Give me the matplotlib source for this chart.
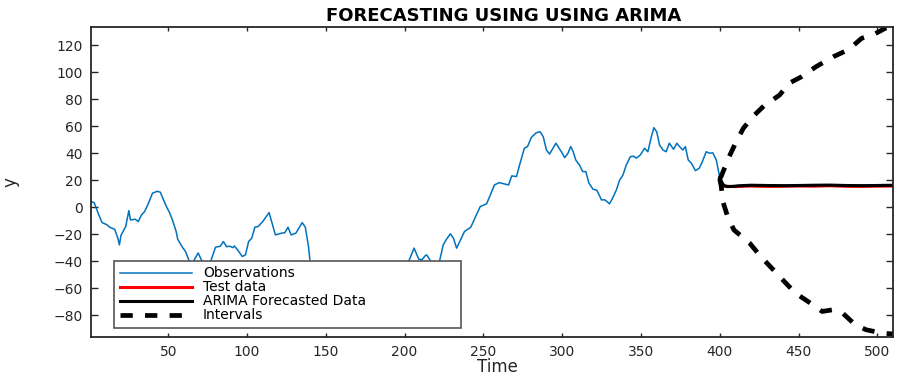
import matplotlib
matplotlib.use('Agg')
import matplotlib.pyplot as plt

# observed series (time index, value)
obs_t = [1, 3, 6, 8, 11, 13, 16, 18, 19, 20, 23, 25, 26, 29, 31, 33, 35, 37,
         40, 43, 45, 47, 49, 51, 53, 55, 56, 59, 61, 63, 65, 67, 69, 71, 73,
         75, 77, 80, 83, 85, 87, 89, 91, 92, 94, 97, 99, 101, 103, 105, 107,
         110, 114, 118, 122, 124, 126, 128, 131, 135, 137, 139, 140, 145, 150,
         155, 160, 165, 170, 175, 180, 185, 190, 195, 200, 203, 206, 209, 211,
         213, 214, 216, 218, 222, 224.5, 226.6, 229, 231, 233, 235.5, 238,
         242, 244.6, 248, 252, 254, 257, 260, 266, 268, 271, 273, 276, 278,
         280.5, 283.6, 286, 288, 290, 292, 296, 299.5, 301.6, 303.7, 305.4,
         307, 308.6, 311, 313, 315, 317, 319.6, 322, 325, 327, 328.4, 330,
         332, 334.4, 336.5, 338.6, 340.7, 343.3, 345.4, 347, 349.6, 352.3,
         354.4, 356.6, 358.2, 360, 361.8, 364, 366, 368, 370.7, 372.8, 374.5,
         376.6, 378.2, 380, 382, 384.6, 387, 389, 391.4, 393.5, 395.6, 397.8,
         400]
obs_y = [4, 3.3, -6, -11.5, -13, -15, -16.4, -23, -28, -21, -14.4, -2.6, -9.5,
         -9, -10.7, -5.8, -3.3, 1.6, 10.3, 11.7, 11, 5.3, 0, -4.5, -10.7, -18,
         -23.8, -29.7, -33, -39, -43, -38, -34, -39, -44, -46, -40, -29.7, -29,
         -25.5, -29.3, -29, -30, -28.8, -31.7, -36.6, -35.4, -25.5, -23, -14.9,
         -14.4, -10.7, -4.1, -20.6, -19.3, -19, -14.9, -20.6, -19.3, -11.5,
         -14.9, -29.2, -40.3, -55, -58, -52, -60, -55, -62, -58, -50, -56, -52,
         -48, -45, -39.1, -30.4, -38.6, -39, -36.1, -35.4, -39, -44, -41, -28,
         -23.8, -19.8, -23, -30.4, -24.3, -18.1, -14.9, -8.2, 0.4, 2.4, 7.8,
         16.4, 18.1, 16.4, 23.1, 22.6, 31.2, 43.6, 44.8, 51.7, 55.1, 55.8,
         52.1, 42.3, 39.3, 47.3, 41, 36.6, 39.9, 44.8, 41, 34.9, 31.2, 26.3,
         26.3, 17.7, 13.2, 12.5, 5.3, 5.4, 4.1, 2.4, 6.6, 12.7, 20.1, 23.8,
         31.2, 37.4, 37.7, 36.2, 38.6, 43.6, 41, 52.1, 58.8, 55.8, 46, 42.3,
         41, 47.3, 42.8, 47.3, 44.8, 42.3, 44.8, 34.9, 32.5, 27, 28.8, 33.7,
         41, 39.9, 40.2, 34.9, 22]

# held-out test data
test_t = [401, 410, 420, 430, 440, 450, 460, 470, 480, 490, 500, 510]
test_y = [15.5, 15.2, 15.6, 15.3, 15.4, 15.6, 15.5, 15.8, 15.4, 15.3, 15.5, 15.6]

# ARIMA forecast
fc_t = [400, 401, 402, 403, 405, 408, 412, 420, 430, 440, 450, 460, 470, 480,
        490, 500, 510]
fc_y = [21, 19, 17, 15.8, 15.2, 15.3, 15.8, 16.2, 16.0, 15.9, 16.0, 16.2, 16.3,
        16.0, 15.9, 16.0, 16.2]

# confidence bounds
up_t = [400, 401, 406, 410, 415, 421, 428, 438, 444, 452, 461, 472, 482, 490,
        497, 505, 510]
up_y = [21, 23, 37.4, 47.3, 58.4, 67, 74.9, 83, 91.7, 96.6, 103.9, 111.3,
        116.8, 125, 127.4, 132.4, 134]
lo_t = [400, 401, 402, 405, 409, 419, 426, 433, 440, 448, 456, 465, 472, 478,
        486, 493, 503, 510]
lo_y = [21, 15, 4.1, -7, -16.9, -26.7, -36.6, -45.2, -53.9, -63.7, -69.9,
        -77.3, -76, -78.5, -87.2, -90.9, -93.3, -94]

xticks = [50, 100, 150, 200, 250, 300, 350, 400, 450, 500]
yticks = [-80, -60, -40, -20, 0, 20, 40, 60, 80, 100, 120]

plt.rcParams['font.family'] = 'DejaVu Sans'

fig = plt.figure(figsize=(9.04, 3.75), dpi=100)
ax = fig.add_axes([0.1007, 0.1021, 0.8872, 0.8267])

ax.plot(obs_t, obs_y, color='#0072BD', lw=1.1, label='Observations')
ax.plot(test_t, test_y, color='#FF0000', lw=2.2, label='Test data')
ax.plot(fc_t, fc_y, color='black', lw=2.2, label='ARIMA Forecasted Data')
ax.plot(up_t, up_y, color='black', lw=3.4, ls=(0, (2.6, 2.6)), label='Intervals')
ax.plot(lo_t, lo_y, color='black', lw=3.4, ls=(0, (2.6, 2.6)))

ax.set_xlim(1, 510)
ax.set_ylim(-96, 133.6)
ax.set_xticks(xticks)
ax.set_yticks(yticks)
ax.tick_params(direction='in', top=True, right=True, labelsize=10,
               colors='#262626', width=1.0)
ax.tick_params(axis='x', length=3, pad=6)
ax.tick_params(axis='y', length=5, pad=6)
for side in ax.spines.values():
    side.set_linewidth(1.3)
    side.set_color('#262626')

ax.set_title('FORECASTING USING USING ARIMA', fontsize=13, fontweight='bold',
             x=0.515, y=1.019, pad=0)
ax.set_xlabel('Time', fontsize=12, color='#262626')
ax.xaxis.set_label_coords(0.507, -0.068)
ax.set_ylabel('y', fontsize=12, color='#262626')
ax.yaxis.set_label_coords(-0.089, 0.5)

leg = ax.legend(loc='upper left', bbox_to_anchor=(0.0287, 0.0345, 0.432, 0.21),
                mode='expand', borderaxespad=0, fontsize=10, fancybox=False,
                framealpha=1, edgecolor='#555555', handlelength=5.2,
                handletextpad=0.8, labelspacing=0.0, borderpad=0.4)
leg.get_frame().set_linewidth(1.2)

fig.savefig('out.png', dpi=100)
